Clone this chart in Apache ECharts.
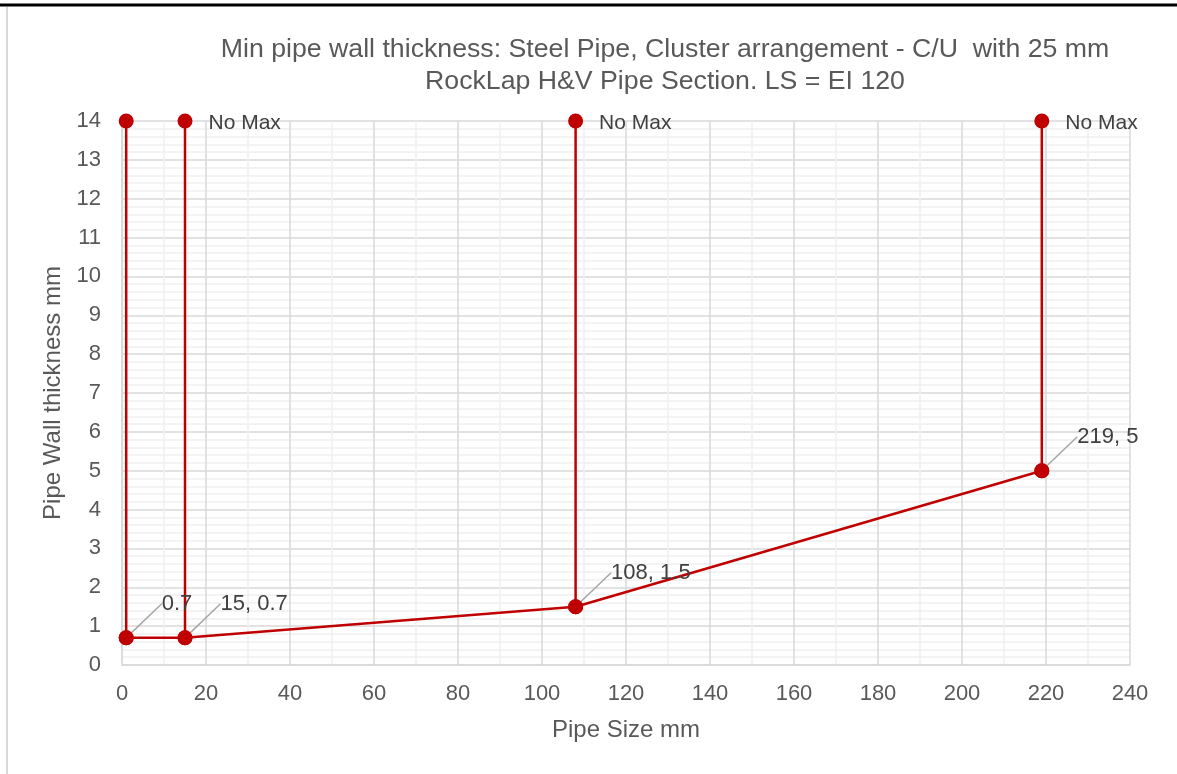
<!DOCTYPE html>
<html>
<head>
<meta charset="utf-8">
<script src="https://cdn.jsdelivr.net/npm/echarts@6/dist/echarts.min.js"></script>
<style>
  html, body { margin: 0; padding: 0; background: #fff; }
  #chart { width: 1177px; height: 774px; }
</style>
</head>
<body>
<div id="chart"></div>
<script>
// ---- Data ----
const pipeSizes = [1, 15, 108, 219];
const minThickness = [0.7, 0.7, 1.5, 5];
const maxThickness = [14, 14, 14, 14]; // "No Max" drawn at the top of the axis
const minLabels = ['0.7', '15, 0.7', '108, 1.5', '219, 5'];
const maxLabels = ['', 'No Max', 'No Max', 'No Max'];
const titleLines = [
  'Min pipe wall thickness: Steel Pipe, Cluster arrangement - C/U  with 25 mm',
  'RockLap H&V Pipe Section. LS = EI 120'
];
const xAxisName = 'Pipe Size mm';
const yAxisName = 'Pipe Wall thickness mm';

const RED = '#C00000';
const FONT = '"Liberation Sans", Arial, sans-serif';

const chart = echarts.init(document.getElementById('chart'));

const series = [];
// Minimum thickness line
series.push({
  type: 'line',
  data: pipeSizes.map((x, i) => [x, minThickness[i]]),
  symbol: 'circle',
  symbolSize: 15,
  itemStyle: { color: RED },
  lineStyle: { color: RED, width: 2.5 },
  z: 3,
  label: {
    show: true,
    position: 'right',
    distance: 4,
    fontFamily: FONT,
    fontSize: 22,
    color: '#404040',
    formatter: p => minLabels[p.dataIndex]
  },
  labelLayout: { dx: 24, dy: -34 },
  labelLine: { show: true, lineStyle: { color: '#a6a6a6', width: 1.5 } }
});
// Vertical "No Max" lines
pipeSizes.forEach((x, i) => {
  series.push({
    type: 'line',
    data: [[x, minThickness[i]], [x, maxThickness[i]]],
    symbol: 'circle',
    symbolSize: 15,
    itemStyle: { color: RED },
    lineStyle: { color: RED, width: 2.5 },
    z: 2,
    label: {
      show: true,
      position: 'right',
      distance: 16,
      offset: [0, 2],
      fontFamily: FONT,
      fontSize: 21,
      color: '#404040',
      formatter: p => (p.dataIndex === 1 ? maxLabels[i] : '')
    }
  });
});

chart.setOption({
  animation: false,
  backgroundColor: '#fff',
  title: {
    text: titleLines.join('\n'),
    left: 660,
    textAlign: 'center',
    top: 29,
    textStyle: { fontFamily: FONT, fontSize: 26.7, fontWeight: 'normal', color: '#595959', lineHeight: 32 }
  },
  graphic: [
    { type: 'line', shape: { x1: 0, y1: 5, x2: 1177, y2: 5 }, style: { stroke: '#000', lineWidth: 3 } },
    { type: 'line', shape: { x1: 7, y1: 7, x2: 7, y2: 774 }, style: { stroke: '#d9d9d9', lineWidth: 2 } }
  ],
  grid: { left: 122, right: 47, top: 121, bottom: 109, containLabel: false },
  xAxis: {
    type: 'value',
    min: 0, max: 240, interval: 20,
    name: xAxisName,
    nameLocation: 'middle',
    nameGap: 53,
    nameTextStyle: { fontFamily: FONT, fontSize: 24, color: '#595959' },
    axisLine: { show: true, lineStyle: { color: '#d9d9d9', width: 1.5 } },
    axisTick: { show: false },
    axisLabel: { fontFamily: FONT, fontSize: 22, color: '#595959', margin: 18 },
    splitLine: { show: true, lineStyle: { color: '#d9d9d9', width: 1.5 } },
    minorTick: { show: false, splitNumber: 2 },
    minorSplitLine: { show: true, lineStyle: { color: '#efefef', width: 1.5 } }
  },
  yAxis: {
    type: 'value',
    min: 0, max: 14, interval: 1,
    name: yAxisName,
    nameLocation: 'middle',
    nameGap: 53,
    nameTextStyle: { fontFamily: FONT, fontSize: 24, color: '#595959' },
    axisLine: { show: true, lineStyle: { color: '#d9d9d9', width: 1.5 } },
    axisTick: { show: false },
    axisLabel: { fontFamily: FONT, fontSize: 22, color: '#595959', margin: 21 },
    splitLine: { show: true, lineStyle: { color: '#d9d9d9', width: 1.5 } },
    minorTick: { show: false, splitNumber: 5 },
    minorSplitLine: { show: true, lineStyle: { color: '#efefef', width: 1.5 } }
  },
  series: series
});
</script>
</body>
</html>
